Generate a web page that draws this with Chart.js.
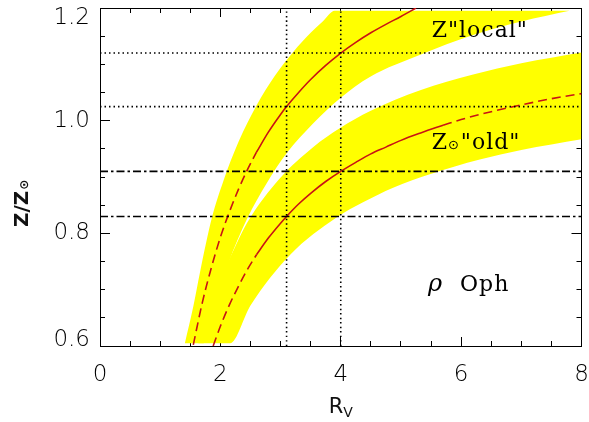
<!DOCTYPE html>
<html>
<head>
<meta charset="utf-8">
<script src="https://cdn.jsdelivr.net/npm/chart.js@4"></script>
<style>
  html, body { margin: 0; padding: 0; background: #fff; }
</style>
</head>
<body>
<canvas id="miGrafico" width="589" height="422"></canvas>
<script>
// Valores (Rv, Z/Zsol)

// banda amarilla "local"
const localBandTopRv = [1.41, 1.55, 1.66, 1.86, 2.05, 2.30, 2.60, 2.90, 3.21, 3.50, 3.70, 3.90, 7.80];
const localBandTopZ  = [0.605, 0.670, 0.730, 0.828, 0.893, 0.962, 1.027, 1.079, 1.122, 1.156, 1.176, 1.195, 1.195];
const localBandBotRv = [1.41, 1.72, 1.90, 2.13, 2.45, 2.77, 3.10, 3.54, 3.99, 4.49, 5.32, 6.20, 7.00, 7.80];
const localBandBotZ  = [0.605, 0.605, 0.671, 0.746, 0.827, 0.889, 0.942, 0.995, 1.040, 1.078, 1.117, 1.152, 1.176, 1.195];

// banda amarilla "old"
const oldBandTopRv = [1.63, 1.80, 2.00, 2.13, 2.44, 2.99, 3.54, 3.99, 4.49, 5.32, 6.20, 7.00, 8.00];
const oldBandTopZ  = [0.605, 0.663, 0.722, 0.750, 0.818, 0.898, 0.953, 0.987, 1.017, 1.054, 1.082, 1.102, 1.121];
const oldBandBotRv = [1.63, 2.16, 2.50, 3.16, 3.93, 4.37, 4.87, 5.48, 6.31, 7.00, 8.00];
const oldBandBotZ  = [0.605, 0.605, 0.672, 0.762, 0.828, 0.855, 0.881, 0.905, 0.931, 0.948, 0.967];

// curvas rojas
const localDashRv  = [1.55, 1.70, 1.85, 2.00, 2.15, 2.30, 2.45, 2.60];
const localDashZ   = [0.602, 0.677, 0.739, 0.793, 0.838, 0.878, 0.913, 0.944];
const localSolidRv = [2.60, 2.80, 3.00, 3.10, 3.30, 3.50, 3.75, 4.00, 4.25, 4.50, 4.75, 5.00, 5.25];
const localSolidZ  = [0.944, 0.980, 1.011, 1.025, 1.050, 1.073, 1.098, 1.120, 1.139, 1.156, 1.171, 1.185, 1.200];

const oldDashLowRv  = [1.88, 2.00, 2.15, 2.30, 2.45, 2.60];
const oldDashLowZ   = [0.600, 0.635, 0.673, 0.706, 0.736, 0.762];
const oldSolidRv    = [2.60, 2.80, 3.00, 3.10, 3.30, 3.50, 3.75, 4.00, 4.25, 4.50, 4.75, 5.00, 5.35, 5.70];
const oldSolidZ     = [0.762, 0.792, 0.818, 0.830, 0.852, 0.871, 0.892, 0.910, 0.926, 0.941, 0.953, 0.965, 0.979, 0.992];
const oldDashHighRv = [5.70, 6.00, 6.50, 7.00, 7.50, 8.00];
const oldDashHighZ  = [0.992, 1.002, 1.016, 1.028, 1.039, 1.048];

// lineas de referencia
const dottedZ  = [1.12, 1.025];
const dashDotZ = [0.91, 0.83];
const dottedRv = [3.1, 4.0];

// ejes
const xMin = 0, xMax = 8, xStep = 2, xMinorStep = 0.5;
const yMin = 0.6, yMax = 1.2, yStep = 0.2, yMinorStep = 0.05;

const AMARILLO = '#ffff00';
const ROJO = 'rgb(200,20,20)';

function puntos(xs, ys) {
    return xs.map((v, i) => ({ x: v, y: ys[i] }));
}

function linea(data, color, dash, orden) {
    return {
        data: data,
        borderColor: color,
        borderWidth: 1.6,
        borderDash: dash,
        pointRadius: 0,
        fill: false,
        cubicInterpolationMode: 'monotone',
        order: orden
    };
}

function borde(data, relleno) {
    return {
        data: data,
        borderWidth: 0,
        pointRadius: 0,
        backgroundColor: AMARILLO,
        fill: relleno,
        cubicInterpolationMode: 'monotone',
        order: 3
    };
}

const datasets = [
    borde(puntos(localBandTopRv, localBandTopZ), 1),
    borde(puntos(localBandBotRv, localBandBotZ), false),
    borde(puntos(oldBandTopRv, oldBandTopZ), 3),
    borde(puntos(oldBandBotRv, oldBandBotZ), false),
    linea(puntos(localDashRv, localDashZ), ROJO, [9, 5], 1),
    linea(puntos(localSolidRv, localSolidZ), ROJO, [], 1),
    linea(puntos(oldDashLowRv, oldDashLowZ), ROJO, [9, 5], 1),
    linea(puntos(oldSolidRv, oldSolidZ), ROJO, [], 1),
    linea(puntos(oldDashHighRv, oldDashHighZ), ROJO, [9, 5], 1)
];

dottedZ.forEach(z => datasets.push(linea([{ x: xMin, y: z }, { x: xMax, y: z }], '#000', [1.5, 3], 0)));
dashDotZ.forEach(z => datasets.push(linea([{ x: xMin, y: z }, { x: xMax, y: z }], '#000', [8, 3, 2.5, 3], 0)));
dottedRv.forEach(r => datasets.push(linea([{ x: r, y: yMin }, { x: r, y: yMax }], '#000', [1.5, 3], 0)));

// textos dentro del grafico (posicion en unidades de datos)
const posLocal = { rv: 5.51, z: 1.149 };
const posOld = { rv: 5.51, z: 0.950 };
const posOph = { rv: 5.45, z: 0.698 };

const fuenteTicks = { family: 'DejaVu Sans', size: 23, weight: 200 };

function ejeX(pos, paso, largo, etiquetas, conBorde, peso) {
    return {
        type: 'linear', position: pos, min: xMin, max: xMax, weight: peso, z: 2,
        ticks: { stepSize: paso, display: etiquetas, maxRotation: 0, padding: 24, color: '#000', font: fuenteTicks,
                 callback: v => String(v) },
        grid: { drawOnChartArea: false, drawTicks: true, tickLength: -largo, tickColor: '#000', tickWidth: 1 },
        border: { display: conBorde, color: '#000', width: 1 },
        afterFit: s => { s.height = etiquetas ? 76 : 0; s.paddingLeft = 0; s.paddingRight = 0; }
    };
}

function ejeY(pos, paso, largo, etiquetas, conBorde, peso) {
    return {
        type: 'linear', position: pos, min: yMin, max: yMax, weight: peso, z: 2,
        ticks: {
            stepSize: paso, display: etiquetas, padding: 20, color: '#000',
            // las etiquetas de los extremos quedan dentro del eje, como en IDL
            callback: v => {
                const t = Number(v).toFixed(1);
                if (Math.abs(v - yMax) < 1e-6) return ['', t];
                if (Math.abs(v - yMin) < 1e-6) return [t, ''];
                return t;
            },
            font: c => {
                const v = c.tick ? c.tick.value : 0;
                let lh = 1.2;
                if (Math.abs(v - yMax) < 1e-6) lh = '20px';
                if (Math.abs(v - yMin) < 1e-6) lh = '12px';
                return { family: fuenteTicks.family, size: fuenteTicks.size, weight: fuenteTicks.weight, lineHeight: lh };
            }
        },
        grid: { drawOnChartArea: false, drawTicks: true, tickLength: -largo, tickColor: '#000', tickWidth: 1 },
        border: { display: conBorde, color: '#000', width: 1 },
        afterFit: s => { s.width = etiquetas ? 100 : 0; s.paddingTop = 0; s.paddingBottom = 0; }
    };
}

const textosPlugin = {
    id: 'textos',
    afterDatasetsDraw(chart) {
        const ctx = chart.ctx;
        const x = chart.scales.x, y = chart.scales.y;
        ctx.save();
        ctx.fillStyle = '#000';
        ctx.textBaseline = 'alphabetic';
        ctx.textAlign = 'left';
        ctx.letterSpacing = '1px';

        ctx.font = '22px "DejaVu Serif"';
        ctx.fillText('Z"local"', x.getPixelForValue(posLocal.rv), y.getPixelForValue(posLocal.z));

        let px = x.getPixelForValue(posOld.rv), py = y.getPixelForValue(posOld.z);
        ctx.fillText('Z', px, py);
        px += ctx.measureText('Z').width;
        ctx.font = '13px "DejaVu Sans"';
        ctx.fillText('\u2299', px, py);
        px += ctx.measureText('\u2299').width + 1;
        ctx.font = '22px "DejaVu Serif"';
        ctx.fillText('"old"', px, py);

        px = x.getPixelForValue(posOph.rv); py = y.getPixelForValue(posOph.z);
        ctx.font = 'italic 24px "DejaVu Serif"';
        ctx.fillText('\u03c1', px, py);
        ctx.font = '22px "DejaVu Serif"';
        ctx.fillText('Oph', px + 32, py);
        ctx.restore();
    },
    afterDraw(chart) {
        const ctx = chart.ctx;
        const area = chart.chartArea;
        ctx.save();
        ctx.fillStyle = '#111';
        ctx.textBaseline = 'alphabetic';
        ctx.textAlign = 'left';

        // titulo eje x: R sub V
        const cx = (area.left + area.right) / 2;
        ctx.font = '21px "DejaVu Sans"';
        const wR = ctx.measureText('R').width;
        ctx.fillText('R', cx - 12, 413);
        ctx.font = '14px "DejaVu Sans"';
        ctx.fillText('V', cx - 12 + wR, 417);

        // titulo eje y: Z/Z sol
        ctx.translate(28, 227);
        ctx.rotate(-Math.PI / 2);
        ctx.font = 'bold 20px "DejaVu Sans"';
        ctx.fillText('Z/Z', 0, 0);
        const w = ctx.measureText('Z/Z').width;
        ctx.font = 'bold 12px "DejaVu Sans"';
        ctx.fillText('\u2299', w + 1, 0);
        ctx.restore();
    }
};

const ctx = document.getElementById('miGrafico').getContext('2d');
const miGrafico = new Chart(ctx, {
    type: 'line',
    data: { datasets: datasets },
    options: {
        responsive: false,
        animation: false,
        events: [],
        layout: { padding: { top: 8, right: 7.5, left: 0, bottom: 0 } },
        plugins: { legend: { display: false }, tooltip: { enabled: false } },
        scales: {
            x: ejeX('bottom', xStep, 9, true, true, 1),
            xMinor: ejeX('bottom', xMinorStep, 5, false, false, 0),
            xTop: ejeX('top', xStep, 9, false, true, 1),
            xTopMinor: ejeX('top', xMinorStep, 5, false, false, 0),
            y: ejeY('left', yStep, 10, true, true, 1),
            yMinor: ejeY('left', yMinorStep, 5, false, false, 0),
            yRight: ejeY('right', yStep, 10, false, true, 1),
            yRightMinor: ejeY('right', yMinorStep, 5, false, false, 0)
        }
    },
    plugins: [textosPlugin]
});
</script>
</body>
</html>
